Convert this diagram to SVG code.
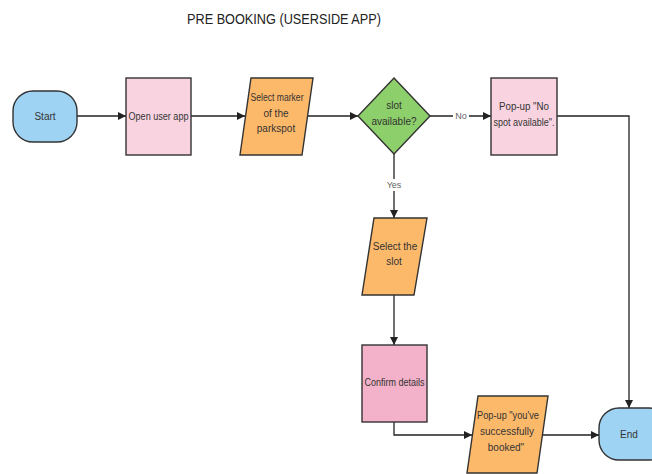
<svg xmlns="http://www.w3.org/2000/svg" width="652" height="474" viewBox="0 0 652 474">
<style>
.n{stroke:#333;stroke-width:1.4}
.t{font-family:"Liberation Sans",Arial,sans-serif;font-size:10px;fill:#333;text-anchor:middle}
.c{fill:none;stroke:#222;stroke-width:1.3}
.l{font-family:"Liberation Sans",Arial,sans-serif;font-size:9px;fill:#666;text-anchor:middle}
</style>
<defs>
<marker id="a" viewBox="0 0 10 10" refX="10" refY="5" markerWidth="8" markerHeight="8" markerUnits="userSpaceOnUse" orient="auto"><path d="M0,0L10,5L0,10z" fill="#222"/></marker>
</defs>
<rect width="652" height="474" fill="#fff"/>
<text x="284" y="24" font-family="Liberation Sans,Arial,sans-serif" font-size="15" fill="#222" text-anchor="middle" textLength="194" lengthAdjust="spacingAndGlyphs">PRE BOOKING (USERSIDE APP)</text>
<g id="connectors">
<path class="c" d="M77,116H126" marker-end="url(#a)"/>
<path class="c" d="M191,116H245" marker-end="url(#a)"/>
<path class="c" d="M307.5,116H358" marker-end="url(#a)"/>
<path class="c" d="M430,116H491" marker-end="url(#a)"/>
<path class="c" d="M557,116H629V408" marker-end="url(#a)"/>
<path class="c" d="M394,154V218" marker-end="url(#a)"/>
<path class="c" d="M394,295V345" marker-end="url(#a)"/>
<path class="c" d="M394,422V435H472" marker-end="url(#a)"/>
<path class="c" d="M542,435H599" marker-end="url(#a)"/>
<rect x="453" y="110" width="16" height="11" fill="#fff"/>
<text class="l" x="461" y="119">No</text>
<rect x="385" y="179" width="18" height="12" fill="#fff"/>
<text class="l" x="394" y="188">Yes</text>
</g>
<g id="start">
<rect class="n" x="13" y="91" width="64" height="51" rx="20" fill="#9fd3f3"/>
<text class="t" x="45" y="120">Start</text>
</g>
<g id="open-app">
<rect class="n" x="126" y="78" width="65" height="77" fill="#f9d3e0"/>
<text class="t" x="158.5" y="120" textLength="60" lengthAdjust="spacingAndGlyphs">Open user app</text>
</g>
<g id="select-marker">
<path class="n" d="M251,78H313L302,155H240Z" fill="#fdb96a"/>
<text class="t" x="277" y="101" textLength="53" lengthAdjust="spacingAndGlyphs">Select marker</text>
<text class="t" x="276" y="117">of the</text>
<text class="t" x="276" y="132">parkspot</text>
</g>
<g id="decision">
<path class="n" d="M394,78L430,116L394,154L358,116Z" fill="#8dcf6a"/>
<text class="t" x="394" y="109">slot</text>
<text class="t" x="394" y="125">available?</text>
</g>
<g id="no-spot">
<rect class="n" x="491" y="78" width="66" height="77" fill="#f9d3e0"/>
<text class="t" x="524" y="110" textLength="50" lengthAdjust="spacingAndGlyphs">Pop-up "No</text>
<text class="t" x="524" y="126" textLength="61" lengthAdjust="spacingAndGlyphs">spot available".</text>
</g>
<g id="select-slot">
<path class="n" d="M374,218H427L414,295H362Z" fill="#fdb96a"/>
<text class="t" x="395" y="250">Select the</text>
<text class="t" x="394" y="265">slot</text>
</g>
<g id="confirm">
<rect class="n" x="362" y="345" width="65" height="77" fill="#f3b2c9"/>
<text class="t" x="394.5" y="386" textLength="60" lengthAdjust="spacingAndGlyphs">Confirm details</text>
</g>
<g id="success">
<path class="n" d="M478,396H548L537,473H467Z" fill="#fdb96a"/>
<text class="t" x="508" y="419" textLength="62" lengthAdjust="spacingAndGlyphs">Pop-up "you've</text>
<text class="t" x="507" y="435">successfully</text>
<text class="t" x="506" y="451">booked"</text>
</g>
<g id="end">
<rect class="n" x="599" y="408" width="70" height="52" rx="20" fill="#9fd3f3"/>
<text class="t" x="629" y="438">End</text>
</g>
</svg>
